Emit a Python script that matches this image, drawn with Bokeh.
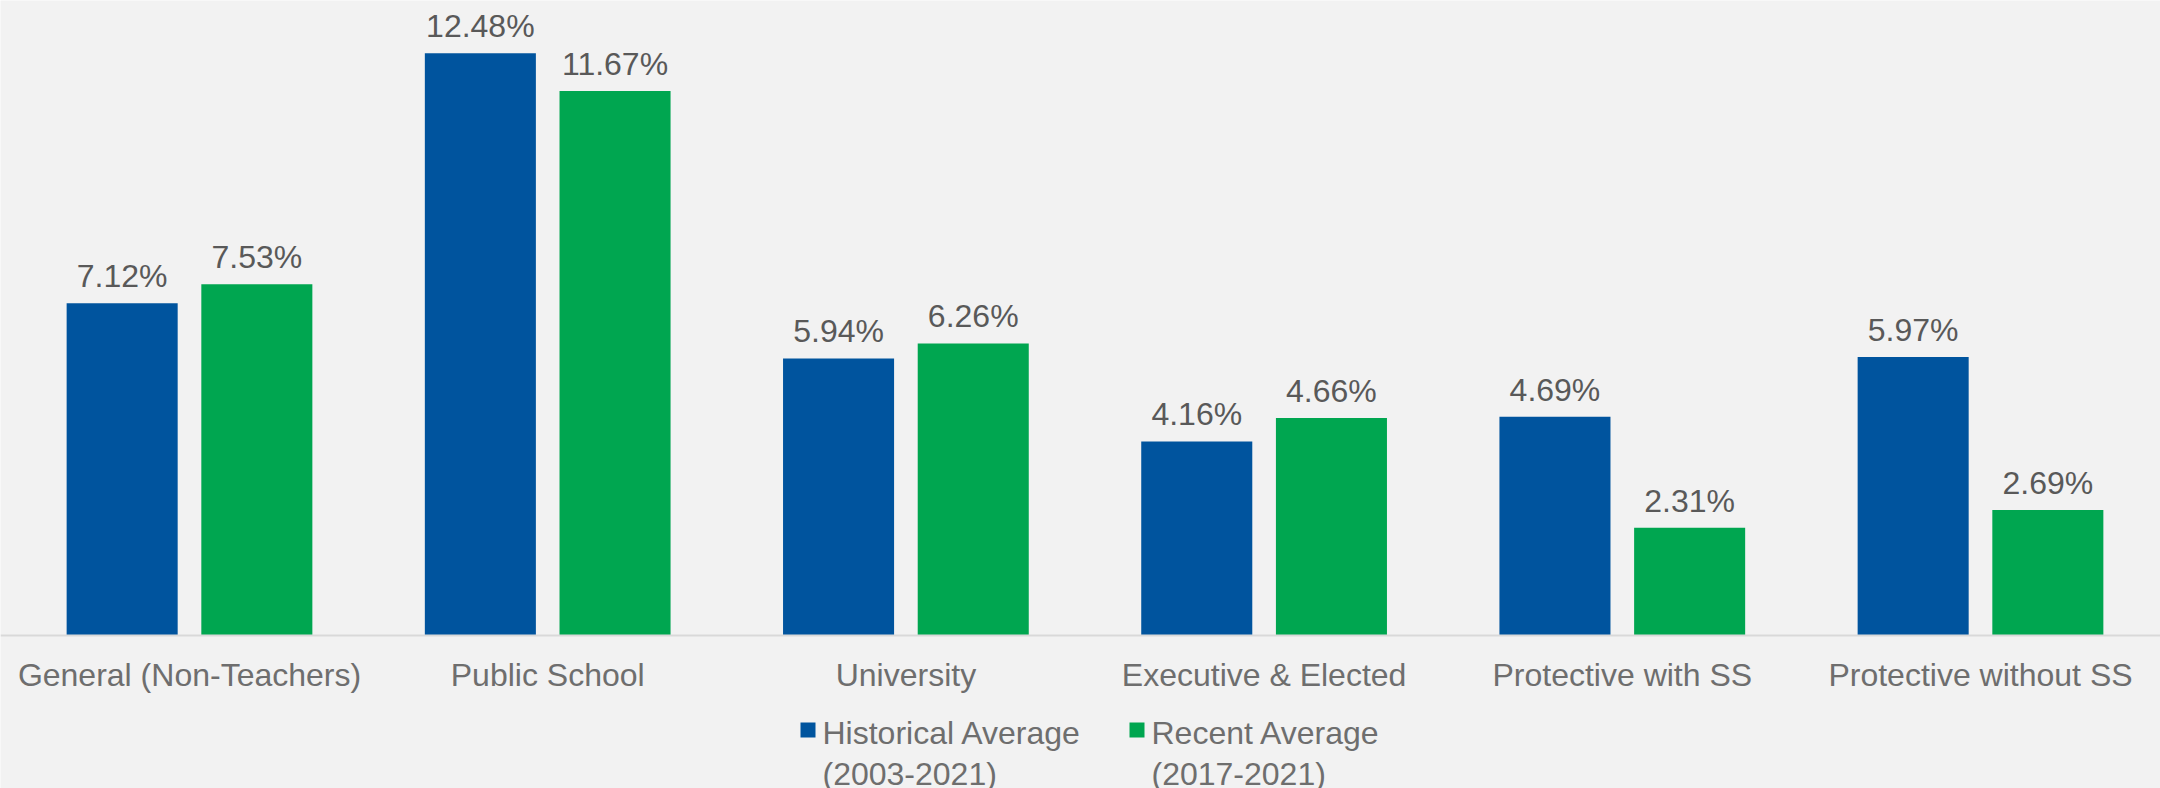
from bokeh.plotting import figure
from bokeh.models import Range1d, FixedTicker
from bokeh.core.properties import value
from bokeh.embed import file_html
from bokeh.resources import INLINE

categories = ["General (Non-Teachers)", "Public School", "University",
              "Executive & Elected", "Protective with SS", "Protective without SS"]
historical = [7.12, 12.48, 5.94, 4.16, 4.69, 5.97]
recent = [7.53, 11.67, 6.26, 4.66, 2.31, 2.69]
series_names = ["Historical Average\n(2003-2021)", "Recent Average\n(2017-2021)"]
colors = ["#00549E", "#00A650"]

FONT = "Liberation Sans"
W, H = 2160, 788
PX_PER_UNIT = 46.65
PX_PER_CAT = 358.2
BASE_PX = 635
X0 = -189 / PX_PER_CAT
y_end = BASE_PX / PX_PER_UNIT
y_start = -(H - BASE_PX) / PX_PER_UNIT
x_end = X0 + W / PX_PER_CAT


def dx(sx):
    return X0 + sx / PX_PER_CAT


def dy(sy):
    return (BASE_PX - sy) / PX_PER_UNIT


p = figure(width=W, height=H, x_range=Range1d(X0, x_end), y_range=Range1d(y_start, y_end),
           output_backend="svg", toolbar_location=None, min_border=0,
           y_axis_location=None)
p.background_fill_color = "#F2F2F2"
p.border_fill_color = "#F2F2F2"
p.outline_line_color = None
p.grid.visible = False

xs = list(range(len(categories)))
off = 0.188
bw = 0.31
series = [historical, recent]
for k, vals in enumerate(series):
    sign = -1 if k == 0 else 1
    bx = [i + sign * off for i in xs]
    p.vbar(x=bx, top=vals, width=bw, bottom=0, fill_color=colors[k], line_color=None)
    p.text(x=bx, y=[v + 27 / PX_PER_UNIT for v in vals], text=[f"{v:.2f}%" for v in vals],
           text_align="center", text_baseline="alphabetic", text_font=value(FONT),
           text_font_size="32px", text_color="#595959")

ax = p.xaxis[0]
ax.ticker = FixedTicker(ticks=xs)
ax.major_label_overrides = {i: c for i, c in enumerate(categories)}
ax.fixed_location = 0
ax.axis_line_color = "#D9D9D9"
ax.axis_line_width = 2
ax.major_tick_line_color = None
ax.minor_tick_line_color = None
ax.major_label_text_font = FONT
ax.major_label_text_font_size = "32px"
ax.major_label_text_color = "#6E6E6E"
ax.major_label_standoff = 15

# legend
sq_x = [807.5, 1136.5]
txt_x = [822, 1151]
p.scatter(x=[dx(s) for s in sq_x], y=[dy(729.5)] * 2, marker="square", size=15,
          fill_color=colors, line_color=None)
for k, name in enumerate(series_names):
    for li, line in enumerate(name.split("\n")):
        p.text(x=[dx(txt_x[k])], y=[dy(732 + 41 * li)], text=[line], text_align="left",
               text_baseline="alphabetic", text_font=value(FONT), text_font_size="32px",
               text_color="#6E6E6E")

open("out.html", "w").write(file_html(p, INLINE))
